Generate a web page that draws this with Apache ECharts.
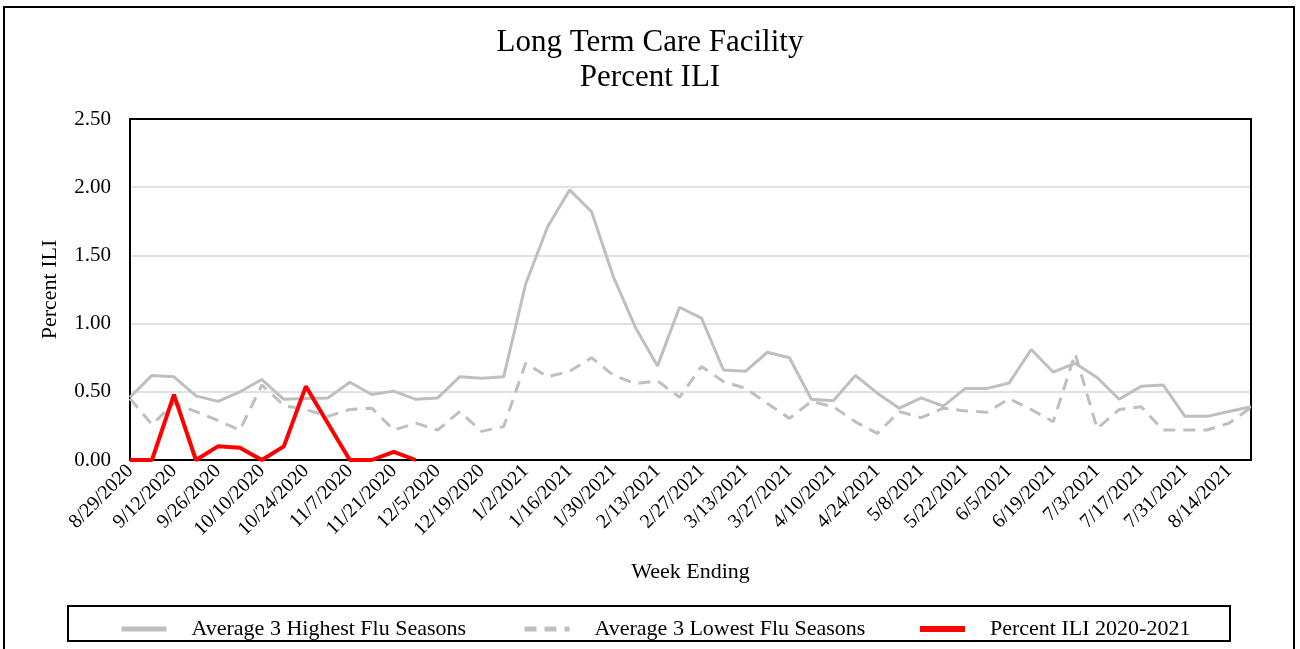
<!DOCTYPE html>
<html>
<head>
<meta charset="utf-8">
<script src="https://cdn.jsdelivr.net/npm/echarts@6/dist/echarts.min.js"></script>
<style>
html,body{margin:0;padding:0;background:#fff;}
#c{width:1300px;height:649px;}
</style>
</head>
<body>
<div id="c"></div>
<script>
const weeks = [
'8/29/2020','9/5/2020','9/12/2020','9/19/2020','9/26/2020','10/3/2020','10/10/2020','10/17/2020','10/24/2020','10/31/2020',
'11/7/2020','11/14/2020','11/21/2020','11/28/2020','12/5/2020','12/12/2020','12/19/2020','12/26/2020',
'1/2/2021','1/9/2021','1/16/2021','1/23/2021','1/30/2021','2/6/2021','2/13/2021','2/20/2021','2/27/2021',
'3/6/2021','3/13/2021','3/20/2021','3/27/2021','4/3/2021','4/10/2021','4/17/2021','4/24/2021',
'5/1/2021','5/8/2021','5/15/2021','5/22/2021','5/29/2021','6/5/2021','6/12/2021','6/19/2021','6/26/2021',
'7/3/2021','7/10/2021','7/17/2021','7/24/2021','7/31/2021','8/7/2021','8/14/2021','8/21/2021'
];
const highSeasons = [
0.46,0.62,0.61,0.47,0.43,0.50,0.59,0.445,0.45,0.455,
0.57,0.48,0.505,0.445,0.455,0.61,0.60,0.61,
1.29,1.71,1.98,1.82,1.34,0.97,0.69,1.12,1.04,
0.66,0.65,0.79,0.75,0.445,0.435,0.62,0.49,
0.38,0.455,0.395,0.525,0.525,0.565,0.81,0.645,0.71,
0.605,0.445,0.54,0.55,0.32,0.32,0.355,0.39
];
const lowSeasons = [
0.45,0.26,0.415,0.355,0.29,0.22,0.55,0.40,0.37,0.32,
0.37,0.38,0.22,0.27,0.22,0.355,0.21,0.245,
0.71,0.61,0.65,0.75,0.62,0.56,0.58,0.46,0.685,
0.575,0.525,0.415,0.305,0.43,0.39,0.28,0.195,
0.355,0.31,0.38,0.36,0.35,0.45,0.37,0.28,0.78,
0.23,0.37,0.39,0.22,0.22,0.22,0.27,0.385
];
const ili2020 = [
0,0,0.48,0,0.10,0.09,0,0.10,0.54,0.27,
0,0,0.06,0
];
const yTicks = [0,0.5,1,1.5,2,2.5];

const FONT = "'Liberation Serif','Times New Roman',serif";
const chart = echarts.init(document.getElementById('c'), null, {renderer:'canvas'});
const names = ['Average 3 Highest Flu Seasons','Average 3 Lowest Flu Seasons','Percent ILI 2020-2021'];
const legendBase = {
  orient:'horizontal', top:613, itemWidth:45, itemHeight:14, itemGap:0,
  itemStyle:{opacity:0},
  textStyle:{fontFamily:FONT, fontSize:22, color:'#000', padding:[0,0,0,20]}
};
chart.setOption({
  animation:false,
  backgroundColor:'#fff',
  title:{
    text:'Long Term Care Facility\nPercent ILI',
    left:'center', top:25, padding:0,
    textStyle:{fontFamily:FONT, fontSize:31, fontWeight:'normal', color:'#000', lineHeight:35}
  },
  legend:[
    Object.assign({}, legendBase, {left:114, data:[names[0]], lineStyle:{width:5}}),
    Object.assign({}, legendBase, {left:517, data:[names[1]], lineStyle:{width:5}}),
    Object.assign({}, legendBase, {left:912, data:[names[2]], lineStyle:{width:6}})
  ],
  grid:{left:130, right:49, top:119, bottom:189, show:false},
  xAxis:{
    type:'category', data:weeks, boundaryGap:false,
    axisLine:{show:true, lineStyle:{color:'#000', width:2}},
    axisTick:{show:false},
    axisLabel:{interval:1, rotate:45, fontFamily:FONT, fontSize:20, color:'#000', margin:8},
    name:'Week Ending', nameLocation:'middle', nameGap:101,
    nameTextStyle:{fontFamily:FONT, fontSize:22, color:'#000'}
  },
  yAxis:{
    type:'value', min:yTicks[0], max:yTicks[yTicks.length-1], interval:0.5,
    axisLine:{show:true, lineStyle:{color:'#000', width:2}},
    axisTick:{show:false},
    axisLabel:{fontFamily:FONT, fontSize:21, color:'#000', margin:19, formatter:v=>v.toFixed(2)},
    splitLine:{lineStyle:{color:'#d9d9d9', width:1.5}},
    name:'Percent ILI', nameLocation:'middle', nameGap:69, nameRotate:90,
    nameTextStyle:{fontFamily:FONT, fontSize:22, color:'#000'}
  },
  series:[
    {name:names[0], type:'line', data:highSeasons, symbol:'none', lineStyle:{color:'#bfbfbf', width:3}, itemStyle:{color:'#bfbfbf'}, z:2},
    {name:names[1], type:'line', data:lowSeasons, symbol:'none', lineStyle:{color:'#bfbfbf', width:3, type:[12,8]}, itemStyle:{color:'#bfbfbf'}, z:2},
    {name:names[2], type:'line', data:ili2020, symbol:'none', lineStyle:{color:'#ff0000', width:4}, itemStyle:{color:'#ff0000'}, z:3}
  ],
  graphic:[
    {type:'rect', shape:{x:4, y:7, width:1290, height:660}, style:{fill:null, stroke:'#000', lineWidth:2}, silent:true},
    {type:'rect', shape:{x:68, y:606, width:1162, height:35}, style:{fill:null, stroke:'#000', lineWidth:2}, silent:true},
    {type:'rect', shape:{x:130, y:119, width:1121, height:341}, style:{fill:null, stroke:'#000', lineWidth:2}, silent:true, z:1}
  ]
});
</script>
</body>
</html>
